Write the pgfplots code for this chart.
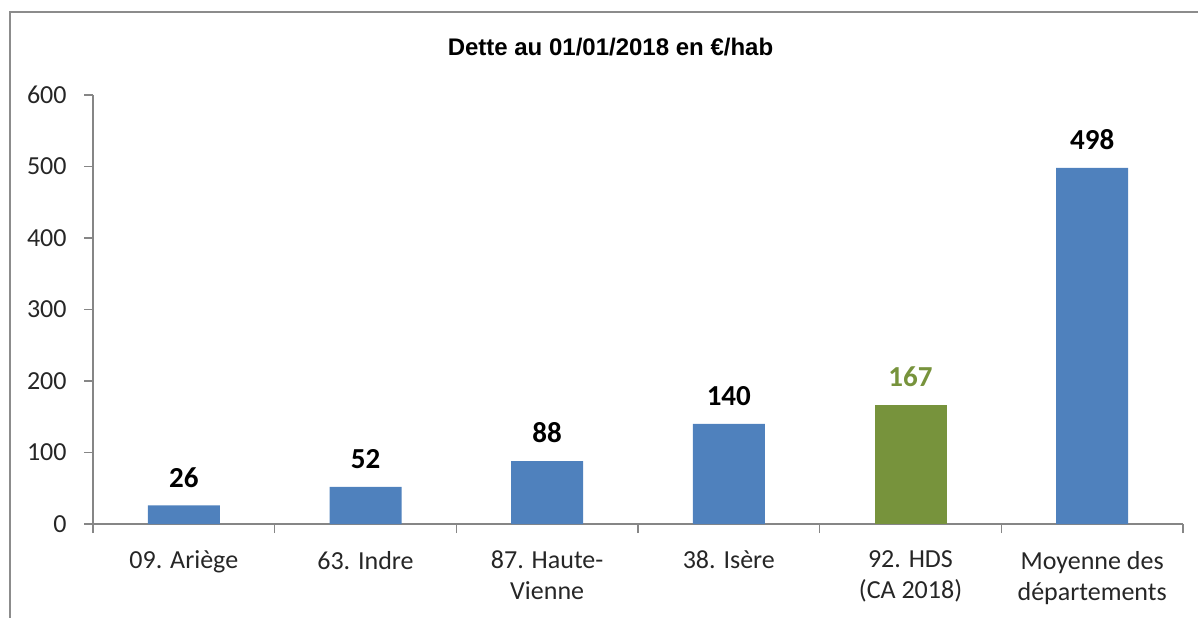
\documentclass[border=0pt]{standalone}
\usepackage{pgfplots}
\pgfplotsset{compat=1.18}
\usepackage{fontspec}
\setmainfont{Carlito}
\newfontfamily\titlefont{Liberation Sans}
\definecolor{barblue}{HTML}{4F81BD}
\definecolor{bargreen}{HTML}{77933C}
\definecolor{axgray}{HTML}{868686}
\definecolor{framegray}{HTML}{8C8C8C}
\pgfkeys{/pgf/number format/assume math mode=true}
\begin{document}
\begin{tikzpicture}
\useasboundingbox (0,0) rectangle (599pt,308.5pt);
\draw[framegray, line width=1pt] (5pt,-5pt) -- (5pt,302.5pt) -- (610pt,302.5pt);
\node[font=\titlefont\bfseries\fontsize{12}{14}\selectfont, anchor=base] at (305.25pt,280.5pt) {Dette au 01/01/2018 en €/hab};
\begin{axis}[
  at={(46.5pt,46.5pt)}, anchor=south west,
  scale only axis, width=545pt, height=214.5pt,
  xmin=-0.5, xmax=5.5, ymin=0, ymax=600,
  axis x line*=bottom, axis y line*=left,
  axis line style={axgray, line width=0.6pt, -},
  ytick={0,100,...,600}, ytick pos=left,
  xtick={-0.5,0.5,1.5,2.5,3.5,4.5,5.5}, xticklabels={},
  tick align=outside, major tick length=4.5pt,
  tick style={axgray, line width=0.6pt},
  extra x ticks={0,1,2,3,4,5},
  extra x tick labels={09. Ariège, 63. Indre, {87. Haute-\\Vienne}, 38. Isère, {92. HDS\\(CA 2018)}, {Moyenne des\\départements}},
  extra x tick style={major tick length=0pt},
  xticklabel style={align=center, font=\fontsize{13}{15.5}\selectfont, text=black!85, yshift=-10pt},
  yticklabel style={font=\fontsize{13}{15.5}\selectfont, text=black!85, xshift=-5.2pt},
  ybar, bar width=36pt, bar shift=0pt,
  nodes near coords,
  nodes near coords style={font=\bfseries\fontsize{14.5}{17}\selectfont, yshift=5.5pt},
  clip=false
]
\addplot[fill=barblue, draw=none] coordinates {(0,26) (1,52) (2,88) (3,140) (5,498)};
\addplot[fill=bargreen, draw=none, nodes near coords style={text=bargreen}] coordinates {(4,167)};
\end{axis}
\end{tikzpicture}
\end{document}
